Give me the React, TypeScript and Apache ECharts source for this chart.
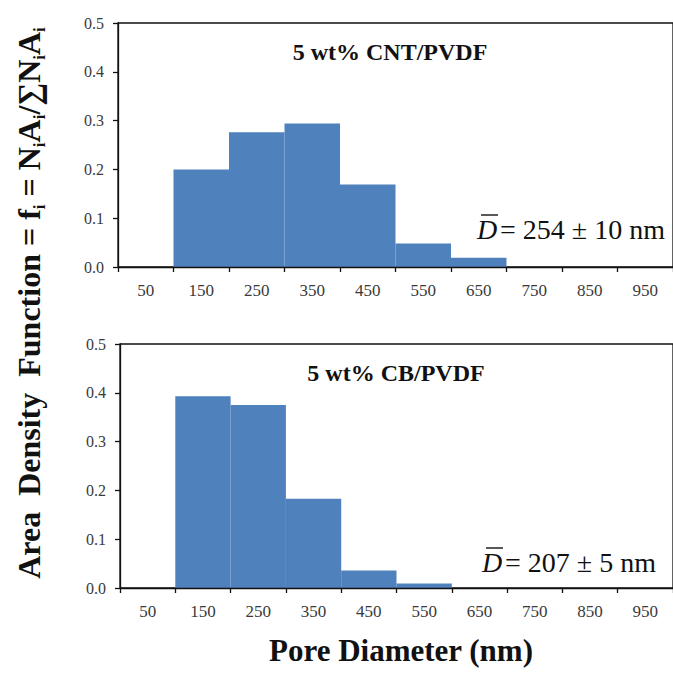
import React, { useEffect, useRef } from "react";
import * as echarts from "echarts";

const categories = ["50", "150", "250", "350", "450", "550", "650", "750", "850", "950"];
const cntValues = [0, 0.2, 0.276, 0.294, 0.169, 0.048, 0.019, 0, 0, 0];
const cbValues = [0, 0.393, 0.375, 0.183, 0.036, 0.009, 0, 0, 0, 0];
const cntTitle = "5 wt% CNT/PVDF";
const cbTitle = "5 wt% CB/PVDF";
const cntMean = "= 254 ± 10 nm";
const cbMean = "= 207 ± 5 nm";
const xTitle = "Pore Diameter (nm)";

const SERIF = "Liberation Serif";
const BAR = "#4F81BD";
const LABEL = "#3a3a3a";

function xAxisCfg(gridIndex: number) {
  return {
    type: "category",
    gridIndex,
    data: categories,
    boundaryGap: true,
    z: 5,
    axisLine: { lineStyle: { color: "#111", width: 1.3 } },
    axisTick: { show: true, length: 5, lineStyle: { color: "#111", width: 1.3 } },
    axisLabel: { color: LABEL, fontFamily: SERIF, fontSize: 17, margin: 15 },
    splitLine: { show: false },
  };
}

function yAxisCfg(gridIndex: number) {
  return {
    type: "value",
    gridIndex,
    min: 0,
    max: 0.5,
    interval: 0.1,
    z: 5,
    axisLine: { show: true, lineStyle: { color: "#111", width: 1.3 } },
    axisTick: { show: true, length: 5, lineStyle: { color: "#111", width: 1.3 } },
    axisLabel: {
      color: LABEL,
      fontFamily: SERIF,
      fontSize: 16,
      margin: 14,
      formatter: (v: number) => v.toFixed(1),
    },
    splitLine: { show: false },
  };
}

// zero-height bins are simply not drawn
const toBars = (vals: number[]) => vals.map((v) => (v === 0 ? "-" : v));

function meanLabel(x: number, y: number, text: string) {
  return {
    type: "group",
    children: [
      {
        type: "text",
        x,
        y,
        style: {
          text: "D",
          fontFamily: SERIF,
          fontStyle: "italic",
          fontSize: 28,
          fill: "#111",
          align: "left",
          verticalAlign: "middle",
        },
      },
      {
        type: "line",
        shape: { x1: x + 4, y1: y - 14, x2: x + 21, y2: y - 14 },
        style: { stroke: "#111", lineWidth: 1.4 },
      },
      {
        type: "text",
        x: x + 23,
        y,
        style: {
          text,
          fontFamily: SERIF,
          fontSize: 28,
          fill: "#111",
          align: "left",
          verticalAlign: "middle",
        },
      },
    ],
  };
}

export default function App() {
  const ref = useRef<HTMLDivElement>(null);
  useEffect(() => {
    if (!ref.current) return;
    const chart = echarts.init(ref.current, null, { renderer: "svg" });
    const bold = { fontFamily: SERIF, fontWeight: "bold", fontSize: 32, lineHeight: 37 };
    const sub = { fontFamily: SERIF, fontWeight: "bold", fontSize: 17, lineHeight: 15, verticalAlign: "bottom" };
    chart.setOption({
      animation: false,
      backgroundColor: "#ffffff",
      grid: [
        { left: 118, top: 23, height: 244, right: -3, show: true, borderColor: "#111", borderWidth: 1.3, backgroundColor: "transparent" },
        { left: 120, top: 344, height: 244, right: -3, show: true, borderColor: "#111", borderWidth: 1.3, backgroundColor: "transparent" },
      ],
      xAxis: [xAxisCfg(0), xAxisCfg(1)],
      yAxis: [yAxisCfg(0), yAxisCfg(1)],
      series: [
        {
          type: "bar",
          xAxisIndex: 0,
          yAxisIndex: 0,
          data: toBars(cntValues),
          barCategoryGap: "0%",
          itemStyle: { color: BAR, borderColor: BAR, borderWidth: 1.5 },
        },
        {
          type: "bar",
          xAxisIndex: 1,
          yAxisIndex: 1,
          data: toBars(cbValues),
          barCategoryGap: "0%",
          itemStyle: { color: BAR, borderColor: BAR, borderWidth: 1.5 },
        },
      ],
      graphic: [
        {
          type: "text",
          x: 390,
          y: 52,
          style: { text: cntTitle, fontFamily: SERIF, fontWeight: "bold", fontSize: 24, fill: "#111", align: "center", verticalAlign: "middle" },
        },
        {
          type: "text",
          x: 396,
          y: 373,
          style: { text: cbTitle, fontFamily: SERIF, fontWeight: "bold", fontSize: 24, fill: "#111", align: "center", verticalAlign: "middle" },
        },
        meanLabel(477, 229, cntMean),
        meanLabel(482, 562, cbMean),
        {
          type: "text",
          x: 401,
          y: 650,
          style: { text: xTitle, fontFamily: SERIF, fontWeight: "bold", fontSize: 31, fill: "#111", align: "center", verticalAlign: "middle" },
        },
        {
          type: "text",
          x: 29,
          y: 303,
          rotation: Math.PI / 2,
          style: {
            text:
              "{b|Area  Density  Function = f}{s|i}{b| = N}{s|i}{b|A}{s|i}{b|/∑N}{s|i}{b|A}{s|i}",
            rich: { b: bold, s: sub },
            fill: "#111",
            align: "center",
            verticalAlign: "middle",
          },
        },
      ],
    });
    return () => chart.dispose();
  }, []);
  return (
    <div
      ref={ref}
      style={{ position: "fixed", left: 0, top: 0, width: 673, height: 680, background: "#fff" }}
    />
  );
}
